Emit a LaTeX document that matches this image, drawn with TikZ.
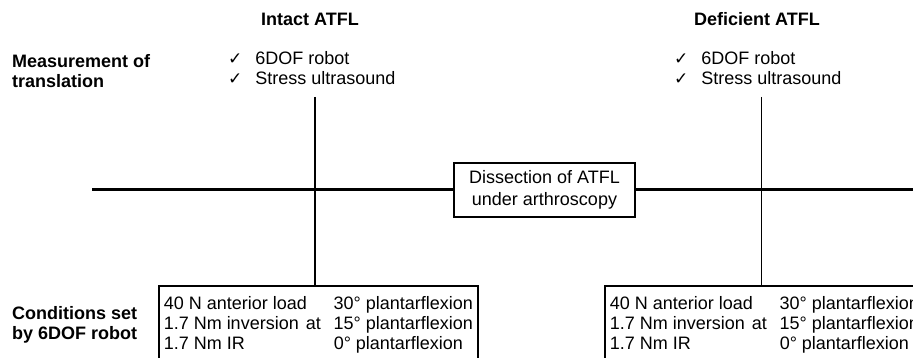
\documentclass[tikz,border=0pt]{standalone}
\usepackage{fontspec}
\setmainfont{Liberation Sans}
\newfontfamily\checkfont{DejaVu Sans}
\usepackage{tikz}
\usetikzlibrary{positioning}

\newcommand\chkmark{{\checkfont\fontsize{17}{20}\selectfont ✓}}
\newcommand\condtable{\begin{tabular}{@{}p{170pt}@{}l@{}}
  40 N anterior load & 30° plantarflexion\\
  1.7 Nm inversion\hspace{7pt}at & 15° plantarflexion\\
  1.7 Nm IR & 0° plantarflexion
\end{tabular}}
\newcommand\toollist{\begin{tabular}{@{}l@{\hspace{13pt}}l@{}}
  \chkmark & 6DOF robot\\
  \chkmark & Stress ultrasound
\end{tabular}}

\begin{document}
\begin{tikzpicture}[x=1pt,y=-1pt,
  head/.style={font=\bfseries,inner sep=0pt},
  side/.style={font=\bfseries,align=left,inner sep=0pt,anchor=west},
  checks/.style={inner sep=0pt,anchor=west},
  condbox/.style={draw,line width=1.5pt,anchor=north west,inner xsep=5pt,inner ysep=10pt},
  cutbox/.style={draw,line width=1.8pt,minimum width=181pt,minimum height=54pt,align=center,inner sep=0pt},
  axis/.style={line width=3pt},
  link/.style={line width=1.3pt}]
\fontsize{18}{20}\selectfont
\useasboundingbox (0,0) rectangle (913,358);
\clip (0,0) rectangle (913,358);
\node[head] (intact) at (310,19) {Intact ATFL};
\node[head] (deficient) at (757,19) {Deficient ATFL};
\node[side] (meas) at (12,71) {Measurement of\\translation};
\node[side] (cond) at (12,325) {Conditions set\\by 6DOF robot};
\node[checks] (tools1) at (228,71) {\toollist};
\node[checks] (tools2) at (674,71) {\toollist};
\node[cutbox] (dissect) at (544.5,190) {Dissection of ATFL\\[2pt]under arthroscopy};
\node[condbox] (load1) at (158,285) {\condtable};
\node[condbox] (load2) at (604,285) {\condtable};
\coordinate (west) at (92,190);
\coordinate (east) at (920,190);
\coordinate (top1) at (315,97);
\coordinate (top2) at (761.5,97);
\draw[axis] (west) -- (dissect.west);
\draw[axis] (dissect.east) -- (east);
\draw[link] (top1) -- (top1 |- load1.north);
\draw[link] (top2) -- (top2 |- load2.north);
\end{tikzpicture}
\end{document}
